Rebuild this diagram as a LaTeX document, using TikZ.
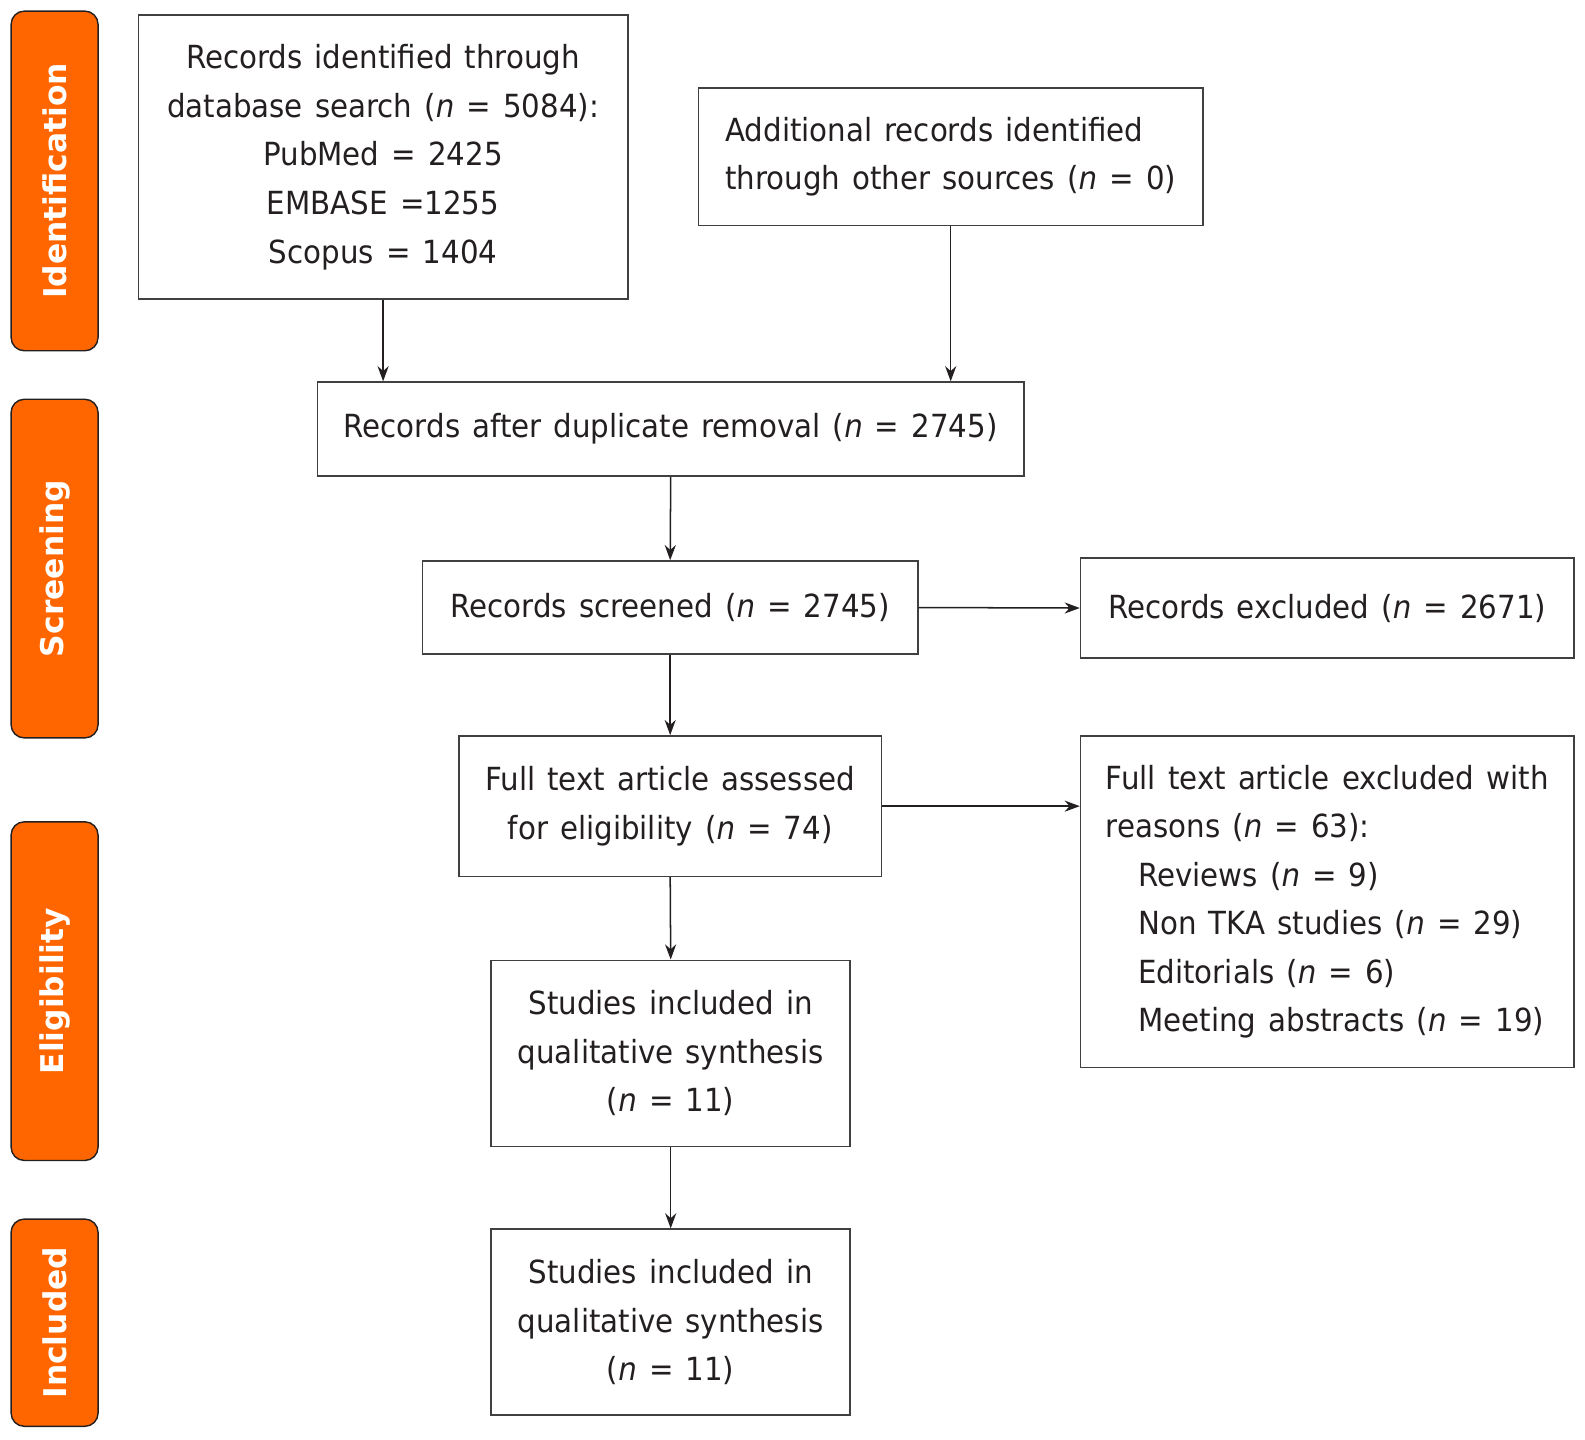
\documentclass[tikz,border=0pt]{standalone}
\usepackage{fontspec}
\setmainfont{DejaVu Sans}[FakeStretch=0.92, WordSpace=1.3]
\newfontfamily\labelfont{DejaVu Sans}
\usetikzlibrary{arrows.meta}
\definecolor{ink}{HTML}{231F20}
\definecolor{frame}{HTML}{404040}
\definecolor{stageorange}{HTML}{FF6600}
\tikzset{
  x=1pt, y=-1pt,
  flowbox/.style={draw=frame, line width=1.6pt, text=ink, inner sep=0pt,
    font=\fontsize{31.5}{48}\selectfont, align=center},
  leftbox/.style={flowbox, align=left},
  stagebox/.style={draw=ink, fill=stageorange, line width=1.4pt, rounded corners=13pt,
    minimum width=86pt},
  stagetext/.style={text=white, rotate=90, font=\labelfont\bfseries\fontsize{31}{36}\selectfont},
  flow/.style={draw=ink, line width=1.5pt, -{Stealth[length=15pt,width=11pt]}}
}
\newcommand{\nn}{\textit{n}}
\begin{document}
\begin{tikzpicture}
\useasboundingbox (0,0) rectangle (1568,1424);
% stage boxes
\node[stagebox, minimum height=336pt] (s1) at (54,179) {};
\node[stagetext] (t1) at (s1.center) {Identification};
\node[stagebox, minimum height=335pt] (s2) at (54,562.5) {};
\node[stagetext] (t2) at (s2.center) {Screening};
\node[stagebox, minimum height=335pt] (s3) at (54,980.5) {};
\node[stagetext] (t3) at (s3.center) {Eligibility};
\node[stagebox, minimum height=205pt] (s4) at (54,1308.5) {};
\node[stagetext] (t4) at (s4.center) {Included};
% flow boxes
\node[flowbox, minimum width=484pt, minimum height=281pt] (a) at (379,155.5)
  {Records identified through\\database search (\nn{} = 5084):\\PubMed = 2425\\EMBASE =1255\\Scopus = 1404};
\node[leftbox, minimum width=499pt, minimum height=136pt] (b) at (940.5,155)
  {Additional records identified\\through other sources (\nn{} = 0)};
\node[flowbox, minimum width=699pt, minimum height=93pt] (c) at (663.5,424.5)
  {Records after duplicate removal (\nn{} = 2745)};
\node[flowbox, minimum width=490pt, minimum height=92pt] (d) at (663,601)
  {Records screened (\nn{} = 2745)};
\node[leftbox, minimum width=488pt, minimum height=99pt] (e) at (1313,601.5)
  {Records excluded (\nn{} = 2671)};
\node[flowbox, minimum width=418pt, minimum height=139pt] (f) at (663,797.5)
  {Full text article assessed\\for eligibility (\nn{} = 74)};
\node[leftbox, minimum width=488pt, minimum height=328pt] (g) at (1313,892)
  {Full text article excluded with\\reasons (\nn{} = 63):\\
   \hspace*{32pt}Reviews (\nn{} = 9)\\
   \hspace*{32pt}Non TKA studies (\nn{} = 29)\\
   \hspace*{32pt}Editorials (\nn{} = 6)\\
   \hspace*{32pt}Meeting abstracts (\nn{} = 19)};
\node[flowbox, minimum width=355pt, minimum height=184pt] (h) at (663.5,1042)
  {Studies included in\\qualitative synthesis\\(\nn{} = 11)};
\node[flowbox, minimum width=355pt, minimum height=184pt] (i) at (663.5,1308)
  {Studies included in\\qualitative synthesis\\(\nn{} = 11)};
% connectors
\draw[flow] (a.south) -- (a.south |- c.north);
\draw[flow] (b.south) -- (b.south |- c.north);
\draw[flow] (c.south) -- (d.north);
\draw[flow] (d.east) -- (e.west);
\draw[flow] (d.south) -- (f.north);
\coordinate (gin) at (g.west |- f.east);
\draw[flow] (f.east) -- (gin);
\draw[flow] (f.south) -- (h.north);
\draw[flow] (h.south) -- (i.north);
\end{tikzpicture}
\end{document}
